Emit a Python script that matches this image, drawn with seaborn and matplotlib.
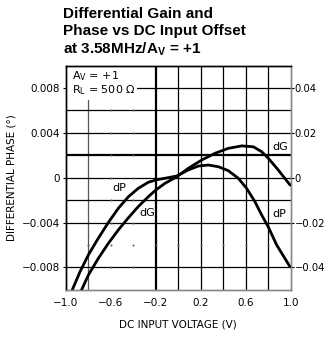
import numpy as np
import pandas as pd
import matplotlib
matplotlib.use("Agg")
import matplotlib.pyplot as plt
import seaborn as sns

sns.set_style("white")
plt.rcParams['font.family'] = ['DejaVu Sans']
plt.rcParams['mathtext.fontset'] = 'custom'
plt.rcParams['mathtext.rm'] = 'DejaVu Sans'
plt.rcParams['mathtext.bf'] = 'Liberation Sans:bold'
plt.rcParams['text.color'] = 'black'
plt.rcParams['axes.labelcolor'] = 'black'
plt.rcParams['xtick.color'] = 'black'
plt.rcParams['ytick.color'] = 'black'

# ---- data ----
x_dp = [-0.942, -0.874, -0.8, -0.711, -0.622, -0.533, -0.444, -0.356, -0.267, -0.192, -0.118, -0.014,
        0.089, 0.178, 0.267, 0.356, 0.444, 0.533, 0.607, 0.681, 0.741, 0.8, 0.874, 0.993]
dp = [-0.0100, -0.0084, -0.0069, -0.0054, -0.0040, -0.00273, -0.0017, -0.00095, -0.00041, -0.00018, -0.00005, 0.00015,
      0.00069, 0.00104, 0.00113, 0.00098, 0.00063, -0.00005, -0.00095, -0.00214, -0.00333, -0.0044, -0.0060, -0.00795]

x_dg = [-0.859, -0.8, -0.711, -0.622, -0.533, -0.444, -0.356, -0.267, -0.2, -0.118, -0.014,
        0.089, 0.208, 0.327, 0.444, 0.564, 0.667, 0.741, 0.8, 0.889, 0.994]
dg = [-0.050, -0.0435, -0.036, -0.0293, -0.0233, -0.0179, -0.0129, -0.0085, -0.0055, -0.0025, 0.0004,
      0.0042, 0.0079, 0.0109, 0.0131, 0.0142, 0.0138, 0.0116, 0.0087, 0.0034, -0.0033]

xticks = [-1.0, -0.6, -0.2, 0.2, 0.6, 1.0]
xticklabels = ["\u22121.0", "\u22120.6", "\u22120.2", "0.2", "0.6", "1.0"]
yticks = [-0.008, -0.004, 0, 0.004, 0.008]
yticklabels = ["\u22120.008", "\u22120.004", "0", "0.004", "0.008"]
y2ticks = [-0.04, -0.02, 0, 0.02, 0.04]
y2ticklabels = ["\u22120.04", "\u22120.02", "0", "0.02", "0.04"]

vgrid = [-0.8, 0.0, 0.2, 0.4, 0.6, 0.8]
vgrid_bold = [-0.2]
vgrid_missing = [-0.6, -0.4]
hgrid = [0.008, 0.006, 0.004, 0.0, -0.002, -0.004, -0.008]
hgrid_bold = [0.002]
hgrid_missing = [-0.006]

df_dp = pd.DataFrame({"x": x_dp, "y": dp})
df_dg = pd.DataFrame({"x": x_dg, "y": dg})

fig = plt.figure(figsize=(3.25, 3.41), dpi=100)
ax = fig.add_axes([0.2025, 0.1504, 0.6923, 0.657])
ax.set_xlim(-1.0, 1.0)
ax.set_ylim(-0.01, 0.01)

# grid
for v in vgrid:
    ax.axvline(v, color="#555555" if v == -0.8 else "black", lw=0.9, zorder=1)
for v in vgrid_bold:
    ax.axvline(v, color="black", lw=1.6, zorder=1)
for h in hgrid:
    ax.axhline(h, color="black", lw=0.9, zorder=1)
for h in hgrid_bold:
    ax.axhline(h, color="black", lw=1.6, zorder=1)
# dotted remnants of missing grid lines
dots_x, dots_y = [], []
for v in vgrid_missing:
    for h in hgrid + hgrid_bold + hgrid_missing:
        dots_x.append(v); dots_y.append(h)
for h in hgrid_missing:
    for v in vgrid + vgrid_bold:
        dots_x.append(v); dots_y.append(h)
ax.scatter(dots_x, dots_y, s=2.0, color="#555555", zorder=1, linewidths=0)

# white box behind conditions text
ax.add_patch(plt.Rectangle((-1.0, 0.0069), 0.63, 0.0031, facecolor="white",
                           edgecolor="none", zorder=2))
ax.text(-0.945, 0.00881, r"A$_\mathrm{V}$ = +1", fontsize=8, va="baseline", ha="left", zorder=3)
ax.text(-0.945, 0.00756, "R$_\\mathrm{L}$ = 500 \u03a9", fontsize=8,
        va="baseline", ha="left", zorder=3)

sns.lineplot(data=df_dp, x="x", y="y", ax=ax, color="black", lw=2.0, zorder=4)

ax2 = ax.twinx()
ax2.set_ylim(-0.05, 0.05)
sns.lineplot(data=df_dg, x="x", y="y", ax=ax2, color="black", lw=2.0, zorder=4)

# curve labels
ax.text(-0.527, -0.00092, "dP", fontsize=8, ha="center", va="center", zorder=5)
ax.text(-0.274, -0.00315, "dG", fontsize=8, ha="center", va="center", zorder=5)
ax.text(0.904, 0.0027, "dG", fontsize=8, ha="center", va="center", zorder=5)
ax.text(0.90, -0.00324, "dP", fontsize=8, ha="center", va="center", zorder=5)

# ticks
ax.set_xticks(xticks)
ax.set_xticklabels(xticklabels, fontsize=7.5)
ax.set_yticks(yticks)
ax.set_yticklabels(yticklabels, fontsize=7.5)
ax2.set_yticks(y2ticks)
ax2.set_yticklabels(y2ticklabels, fontsize=7.2)
ax.tick_params(axis="x", length=0, pad=6)
ax.tick_params(axis="y", length=2.5, width=0.8, pad=1.5, direction="out", left=True)
ax2.tick_params(axis="y", length=2, width=0.8, pad=0.8, direction="out", right=True)
ax.set_xlabel("DC INPUT VOLTAGE (V)", fontsize=7.5, labelpad=8)
ax.set_ylabel("DIFFERENTIAL PHASE (\u00b0)", fontsize=7.5, labelpad=4)
ax2.set_ylabel("")

for a in (ax, ax2):
    for s in a.spines.values():
        s.set_visible(True)
        s.set_linewidth(1.0)
for a in (ax, ax2):
    a.spines["left"].set_color("black")
    a.spines["top"].set_color("black")
    a.spines["right"].set_color("#888888")
    a.spines["bottom"].set_color("#888888")

# title
tx = 0.194
fig.text(tx, 1 - 17.5 / 341, "Differential Gain and", fontsize=11, fontweight="bold",
         family="Liberation Sans", va="baseline", ha="left")
fig.text(tx, 1 - 35.5 / 341, "Phase vs DC Input Offset", fontsize=11, fontweight="bold",
         family="Liberation Sans", va="baseline", ha="left")
fig.text(tx, 1 - 53.5 / 341, r"at 3.58MHz/A$_\mathbf{V}$ = +1", fontsize=11, fontweight="bold",
         family="Liberation Sans", va="baseline", ha="left")

fig.savefig("out.png", dpi=100)
